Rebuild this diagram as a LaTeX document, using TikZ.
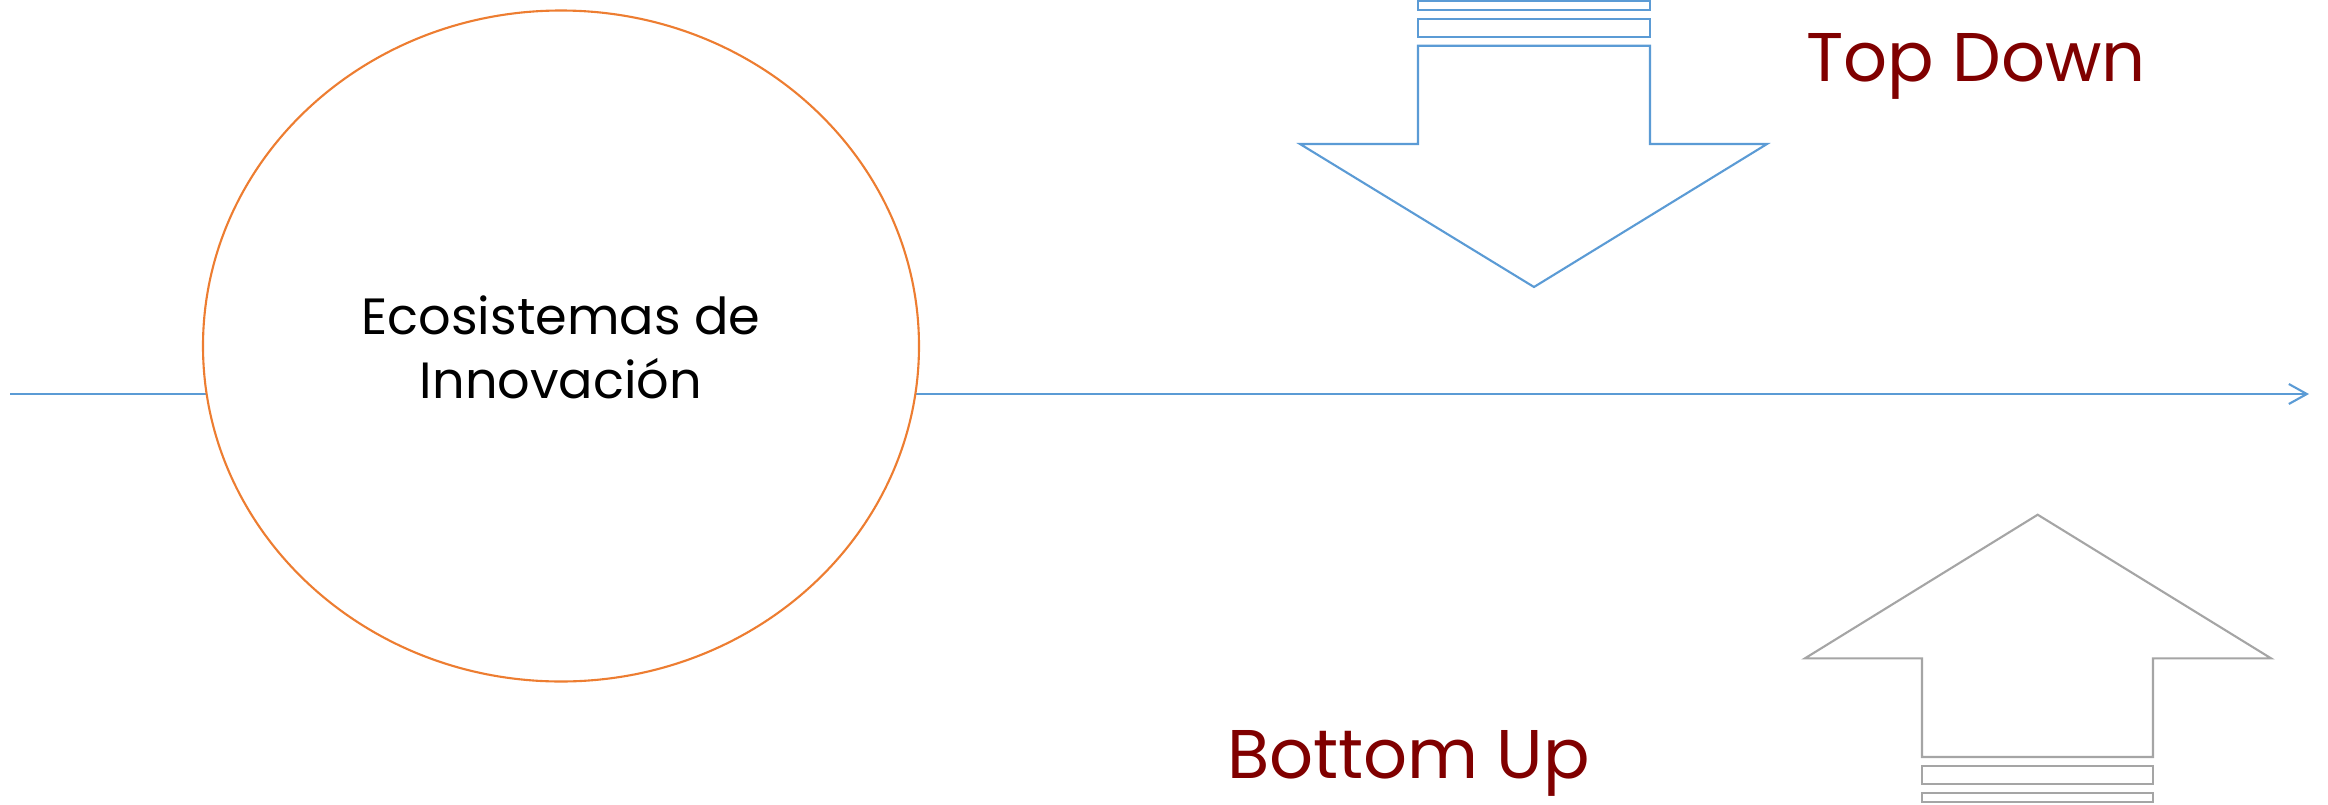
\documentclass[tikz,border=0pt]{standalone}
\usepackage{fontspec}
\setmainfont{Poppins}
\usetikzlibrary{arrows.meta,positioning}
\definecolor{ecoorange}{RGB}{237,125,49}
\definecolor{tdblue}{RGB}{91,155,213}
\definecolor{bugray}{RGB}{165,165,165}
\definecolor{labelred}{RGB}{128,0,0}
\tikzset{
  blockarrow/.style={line width=0.6pt,fill=white,line join=miter},
  tag/.style={text=labelred,font=\fontsize{19.6}{24}\selectfont,inner sep=0pt}
}

\begin{document}
\begin{tikzpicture}[>={Straight Barb[length=1.8mm,width=2mm]},line width=0.6pt]
  \useasboundingbox (0,0) rectangle (23.28,8.04);

  % time line
  \coordinate (start) at (0.10,4.10);
  \coordinate (end) at (23.09,4.10);
  \draw[->,tdblue] (start)--(end);

  % ecosystem
  \draw[draw=ecoorange,fill=white] (5.61,4.58) ellipse [x radius=3.58,y radius=3.355];
  \node[align=center,font=\fontsize{14.5}{18.2}\selectfont,inner sep=0pt] (eco) at (5.61,4.57)
    {Ecosistemas de\\Innovación};

  % top down arrow
  \draw[blockarrow,draw=tdblue] (14.18,7.583)--(16.50,7.583)--(16.50,6.60)--(17.67,6.60)
    --(15.34,5.17)--(13.00,6.60)--(14.18,6.60)--cycle;
  \draw[blockarrow,draw=tdblue] (14.18,7.85) rectangle (16.50,7.673);
  \draw[blockarrow,draw=tdblue] (14.18,8.03) rectangle (16.50,7.94);
  \node[tag,anchor=base west] (td) at (18.05,7.223) {Top Down};

  % bottom up arrow
  \draw[blockarrow,draw=bugray] (19.22,0.47)--(21.53,0.47)--(21.53,1.457)--(22.71,1.457)
    --(20.377,2.893)--(18.05,1.457)--(19.22,1.457)--cycle;
  \draw[blockarrow,draw=bugray] (19.22,0.38) rectangle (21.53,0.20);
  \draw[blockarrow,draw=bugray] (19.22,0.11) rectangle (21.53,0.02);
  \node[tag,anchor=base west] (bu) at (12.26,0.26) {Bottom Up};
\end{tikzpicture}
\end{document}
